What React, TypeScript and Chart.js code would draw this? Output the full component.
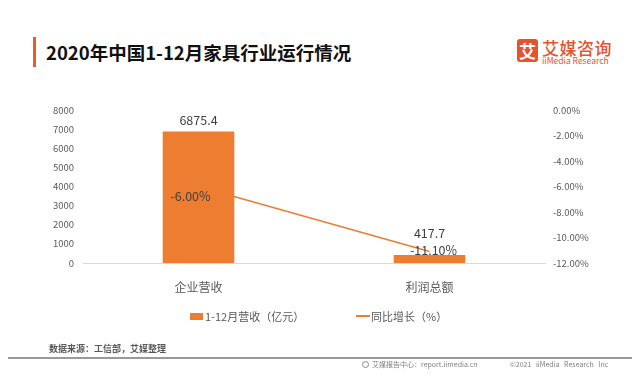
import React, { useEffect, useRef } from "react";
import { Chart, registerables } from "chart.js";

Chart.register(...registerables);

// ---- data ----
const categories = ["企业营收", "利润总额"];
const revenue = [6875.4, 417.7];
const growth = [-6.0, -11.1];
const revenueName = "1-12月营收（亿元）";
const growthName = "同比增长（%）";
const leftMin = 0;
const leftMax = 8000;
const leftStep = 1000;
const rightMin = -12;
const rightMax = 0;
const rightStep = 2;

// ---- style ----
const ORANGE = "#ED7D31";
const FONT = "'Noto Sans CJK SC', 'Noto Sans', sans-serif";
const barLabelDy = [-11, -22];
const lineLabelDxDy = [
  [-8, 10],
  [4, -1],
];

const labelPlugin = {
  id: "valueLabels",
  afterDatasetsDraw(chart: any) {
    const ctx = chart.ctx;
    ctx.save();
    ctx.font = `12.5px ${FONT}`;
    ctx.fillStyle = "#404040";
    ctx.textAlign = "center";
    ctx.textBaseline = "middle";
    const barMeta = chart.getDatasetMeta(0);
    barMeta.data.forEach((el: any, i: number) => {
      ctx.fillText(revenue[i].toFixed(1), el.x, el.y + barLabelDy[i]);
    });
    const lineMeta = chart.getDatasetMeta(1);
    lineMeta.data.forEach((el: any, i: number) => {
      ctx.fillText(
        growth[i].toFixed(2) + "%",
        el.x + lineLabelDxDy[i][0],
        el.y + lineLabelDxDy[i][1]
      );
    });
    ctx.restore();
  },
};

export default function App() {
  const ref = useRef<HTMLCanvasElement>(null);

  useEffect(() => {
    document.body.style.margin = "0";
    Chart.defaults.font.family = FONT;
    const chart = new Chart(ref.current!, {
      type: "bar",
      data: {
        labels: categories,
        datasets: [
          {
            type: "bar",
            label: revenueName,
            data: revenue,
            backgroundColor: ORANGE,
            borderWidth: 0,
            barPercentage: 0.31,
            categoryPercentage: 1,
            yAxisID: "y",
            order: 1,
          },
          {
            type: "line",
            label: growthName,
            data: growth,
            borderColor: ORANGE,
            backgroundColor: ORANGE,
            borderWidth: 1.5,
            pointRadius: 0,
            tension: 0,
            yAxisID: "y1",
            order: 2,
          } as any,
        ],
      },
      options: {
        animation: false,
        responsive: false,
        maintainAspectRatio: false,
        layout: { padding: { left: 0, right: 0, top: 110, bottom: 88 } },
        plugins: {
          legend: { display: false },
          tooltip: { enabled: false },
        },
        scales: {
          x: {
            grid: { display: false },
            border: { display: true, color: "#D9D9D9", width: 1 },
            ticks: { color: "#595959", font: { size: 12 }, padding: 9 },
            afterFit: (s: any) => {
              s.height = 30;
            },
          },
          y: {
            position: "left",
            min: leftMin,
            max: leftMax,
            grid: { display: false, drawTicks: false },
            border: { display: false },
            ticks: {
              stepSize: leftStep,
              color: "#595959",
              font: { size: 9.5 },
              padding: 9,
              callback: (v: any) => String(v),
            },
            afterFit: (s: any) => {
              s.width = 83;
            },
          },
          y1: {
            position: "right",
            min: rightMin,
            max: rightMax,
            grid: { display: false, drawTicks: false },
            border: { display: false },
            ticks: {
              stepSize: rightStep,
              color: "#595959",
              font: { size: 9.5 },
              padding: 8,
              callback: (v: any) => Number(v).toFixed(2) + "%",
            },
            afterFit: (s: any) => {
              s.width = 95;
            },
          },
        },
      },
      plugins: [labelPlugin],
    });
    return () => chart.destroy();
  }, []);

  const abs = (o: React.CSSProperties): React.CSSProperties => ({
    position: "absolute",
    whiteSpace: "nowrap",
    fontFamily: FONT,
    ...o,
  });

  return (
    <div
      style={{
        position: "fixed",
        left: 0,
        top: 0,
        width: 640,
        height: 381,
        background: "#ffffff",
        overflow: "hidden",
      }}
    >
      {/* title */}
      <div style={abs({ left: 33, top: 37, width: 3, height: 30, background: "#F05A28" })} />
      <div
        style={abs({
          left: 46,
          top: 42,
          fontSize: 18.5,
          lineHeight: "20px",
          fontWeight: 700,
          color: "#111111",
        })}
      >
        2020年中国1-12月家具行业运行情况
      </div>
      {/* logo */}
      <div
        style={abs({
          left: 517,
          top: 39,
          width: 21,
          height: 23,
          borderRadius: 3,
          background: "#E2532F",
          color: "#ffffff",
          fontSize: 17,
          fontWeight: 700,
          lineHeight: "23px",
          textAlign: "center",
        })}
      >
        艾
      </div>
      <div
        style={abs({
          left: 542,
          top: 38,
          fontSize: 17,
          lineHeight: "19px",
          fontWeight: 500,
          color: "#E2532F",
          letterSpacing: 0.5,
        })}
      >
        艾媒咨询
      </div>
      <div
        style={abs({
          left: 542,
          top: 55,
          fontSize: 8.5,
          lineHeight: "10px",
          color: "#E2532F",
        })}
      >
        iiMedia Research
      </div>

      <canvas
        ref={ref}
        width={640}
        height={381}
        style={{ position: "absolute", left: 0, top: 0, width: 640, height: 381 }}
      />

      {/* legend */}
      <div style={abs({ left: 190, top: 313, width: 13, height: 7, background: ORANGE })} />
      <div
        style={abs({ left: 205, top: 308, fontSize: 11, lineHeight: "16px", color: "#595959" })}
      >
        {revenueName}
      </div>
      <div style={abs({ left: 356, top: 315, width: 14, height: 2, background: ORANGE })} />
      <div
        style={abs({ left: 371, top: 308, fontSize: 11, lineHeight: "16px", color: "#595959" })}
      >
        {growthName}
      </div>

      {/* source & footer */}
      <div
        style={abs({
          left: 49,
          top: 343,
          fontSize: 9,
          lineHeight: "12px",
          fontWeight: 700,
          color: "#595959",
        })}
      >
        数据来源：工信部，艾媒整理
      </div>
      <div style={abs({ left: 8, top: 357, width: 624, height: 2, background: "#9a9a9a" })} />
      <div
        style={abs({
          left: 362,
          top: 361,
          width: 7,
          height: 7,
          borderRadius: "50%",
          border: "1px solid #8a8a8a",
          boxSizing: "border-box",
        })}
      />
      <div style={abs({ left: 372, top: 360, fontSize: 7, lineHeight: "9px", color: "#7f7f7f" })}>
        艾媒报告中心：report.iimedia.cn
      </div>
      <div
        style={abs({
          left: 510,
          top: 360,
          fontSize: 7,
          lineHeight: "9px",
          color: "#7f7f7f",
          wordSpacing: 3,
        })}
      >
        ©2021 iiMedia Research Inc
      </div>
    </div>
  );
}
